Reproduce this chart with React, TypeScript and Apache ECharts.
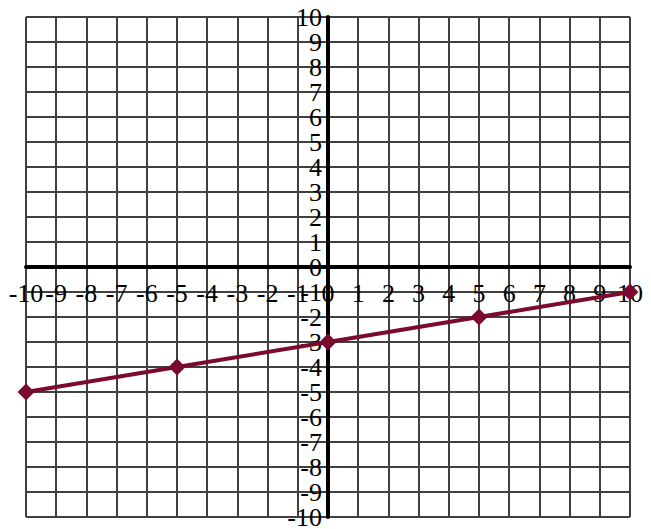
import React, { useEffect, useRef } from "react";
import * as echarts from "echarts";

const xValues = [-10, -5, 0, 5, 10];
const yValues = [-5, -4, -3, -2, -1];
const axisMin = -10;
const axisMax = 10;
const axisStep = 1;

export default function App() {
  const ref = useRef<HTMLDivElement>(null);
  useEffect(() => {
    if (!ref.current) return;
    const chart = echarts.init(ref.current, null, { renderer: "svg" });
    const W = 651;
    const H = 529;
    const gl = 26, gr = 21, gt = 17, gb = 12;
    const gw = W - gl - gr;
    const gh = H - gt - gb;
    const labelStyle = {
      fontFamily: "Liberation Serif",
      fontSize: 26,
      color: "#000",
      hideOverlap: false,
    };
    const baseY = {
      type: "value",
      min: axisMin,
      max: axisMax,
      interval: axisStep,
      position: "left",
      offset: -gw / 2,
      axisTick: { show: false },
    };
    chart.setOption({
      animation: false,
      backgroundColor: "#fff",
      grid: {
        left: gl,
        right: gr,
        top: gt,
        bottom: gb,
        outerBoundsMode: "none",
        containLabel: false,
      },
      xAxis: {
        type: "value",
        min: axisMin,
        max: axisMax,
        interval: axisStep,
        position: "bottom",
        offset: -gh / 2,
        axisLine: { show: true, onZero: false, lineStyle: { color: "#000", width: 4 } },
        axisTick: { show: false },
        axisLabel: { ...labelStyle, margin: 13, showMinLabel: true, showMaxLabel: true },
        splitLine: { show: true, lineStyle: { color: "#404040", width: 2 } },
      },
      yAxis: [
        {
          ...baseY,
          axisLine: { show: true, onZero: false, lineStyle: { color: "#000", width: 4 } },
          axisLabel: { ...labelStyle, margin: 6, showMinLabel: false, showMaxLabel: false },
          splitLine: { show: true, lineStyle: { color: "#404040", width: 2 } },
        },
        {
          ...baseY,
          axisLine: { show: false, onZero: false },
          splitLine: { show: false },
          axisLabel: {
            ...labelStyle,
            margin: 6,
            showMinLabel: true,
            showMaxLabel: true,
            formatter: (v: number) => (v === axisMin || v === axisMax ? String(v) : ""),
          },
        },
      ],
      series: [
        {
          type: "line",
          yAxisIndex: 0,
          data: xValues.map((x, i) => [x, yValues[i]]),
          symbol: "diamond",
          symbolSize: 17,
          clip: false,
          itemStyle: { color: "#7a0b2e" },
          lineStyle: { color: "#7a0b2e", width: 4 },
          z: 5,
        },
      ],
    });
    return () => chart.dispose();
  }, []);
  return (
    <div
      ref={ref}
      style={{ position: "fixed", left: 0, top: 0, width: 651, height: 529 }}
    />
  );
}
